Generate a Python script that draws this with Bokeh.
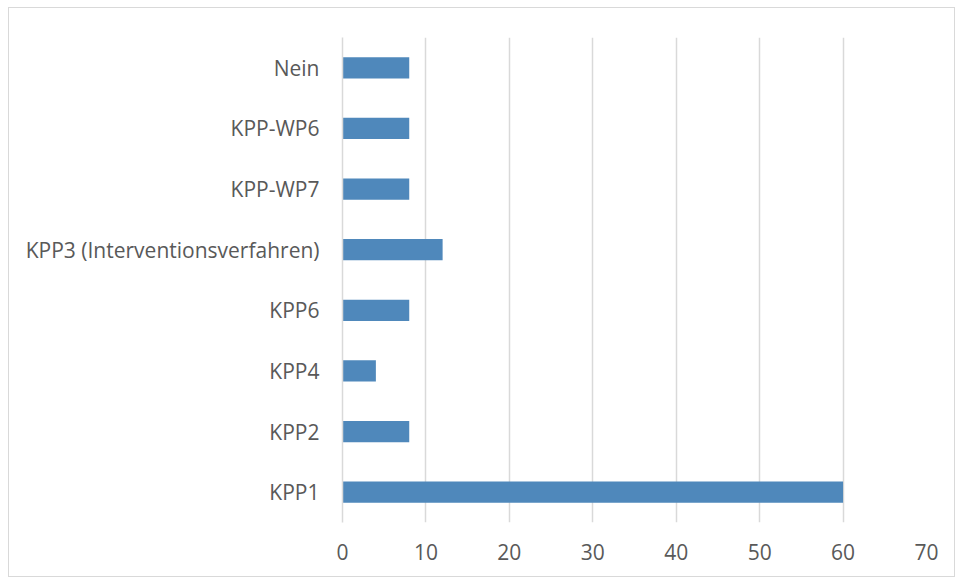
from bokeh.plotting import figure
from bokeh.models import ColumnDataSource, FactorRange
from bokeh.embed import file_html
from bokeh.resources import INLINE

categories = ["KPP1", "KPP2", "KPP4", "KPP6", "KPP3 (Interventionsverfahren)",
              "KPP-WP7", "KPP-WP6", "Nein"]
values = [60, 8, 4, 8, 12, 8, 8, 8]
x_ticks = [0, 10, 20, 30, 40, 50, 60, 70]

src = ColumnDataSource(dict(cat=categories, val=values))

p = figure(width=947, height=570, output_backend="svg", toolbar_location=None,
           y_range=FactorRange(*categories), x_range=(0, 70),
           min_border_left=333, min_border_right=30, min_border_top=29,
           min_border_bottom=56)
p.styles = {"border": "1px solid #d9d9d9", "box-sizing": "border-box",
            "margin-left": "8px", "margin-top": "7px"}
p.hbar(y="cat", right="val", left=0, height=0.35, source=src,
       fill_color="#4f88bb", line_color=None)

p.outline_line_color = None
p.ygrid.grid_line_color = None
p.xgrid.grid_line_color = "#d9d9d9"
p.xgrid.grid_line_width = 1.5
p.xgrid.ticker = x_ticks
p.xaxis.ticker = x_ticks

font = "Open Sans"
p.xaxis.axis_line_color = None
p.xaxis.major_tick_line_color = None
p.xaxis.minor_tick_line_color = None
p.xaxis.major_label_text_font = font
p.xaxis.major_label_text_font_size = "21px"
p.xaxis.major_label_text_color = "#595959"
p.xaxis.major_label_standoff = 15

p.yaxis.axis_line_color = "#d9d9d9"
p.yaxis.axis_line_width = 1.5
p.yaxis.major_tick_line_color = None
p.yaxis.minor_tick_line_color = None
p.yaxis.major_label_text_font = font
p.yaxis.major_label_text_font_size = "21px"
p.yaxis.major_label_text_color = "#595959"
p.yaxis.major_label_standoff = 17

open("out.html", "w").write(file_html(p, INLINE))
